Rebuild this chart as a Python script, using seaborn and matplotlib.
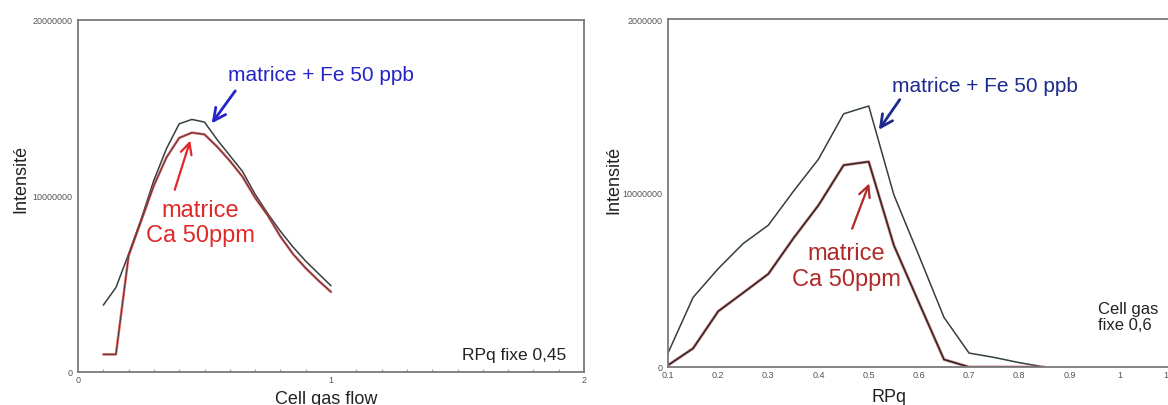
import pandas as pd
import matplotlib.pyplot as plt
import seaborn as sns

flow = [0.1, 0.15, 0.2, 0.25, 0.3, 0.35, 0.4, 0.45, 0.5, 0.55,
        0.6, 0.65, 0.7, 0.75, 0.8, 0.85, 0.9, 0.95, 1.0]
flow_fe = [3.8e6, 4.8e6, 6.7e6, 8.7e6, 10.9e6, 12.7e6, 14.1e6, 14.35e6, 14.2e6, 13.2e6,
           12.3e6, 11.4e6, 10.1e6, 9.0e6, 8.0e6, 7.1e6, 6.3e6, 5.6e6, 4.9e6]
flow_ca = [1.0e6, 1.0e6, 6.6e6, 8.6e6, 10.6e6, 12.2e6, 13.3e6, 13.6e6, 13.5e6, 12.8e6,
           12.0e6, 11.1e6, 9.9e6, 8.9e6, 7.7e6, 6.7e6, 5.9e6, 5.2e6, 4.55e6]

rpq = [0.1, 0.15, 0.2, 0.25, 0.3, 0.35, 0.4, 0.45, 0.5, 0.55,
       0.6, 0.65, 0.7, 0.75, 0.8, 0.85]
rpq_fe = [0.8e6, 4.0e6, 5.65e6, 7.1e6, 8.15e6, 10.1e6, 11.95e6, 14.55e6, 15.0e6, 9.9e6,
          6.4e6, 2.85e6, 0.8e6, 0.55e6, 0.25e6, 0.0]
rpq_ca = [0.1e6, 1.07e6, 3.2e6, 4.27e6, 5.35e6, 7.4e6, 9.3e6, 11.6e6, 11.8e6, 7.0e6,
          3.7e6, 0.43e6, 0.0, 0.0, 0.0, 0.0]

left_yticks = [0, 1e7, 2e7]
left_ylabels = ["0", "10000000", "20000000"]
right_ylabels = ["0", "10000000", "2000000"]
left_xticks = [0, 1, 2]
right_xticks = [0.1, 0.2, 0.3, 0.4, 0.5, 0.6, 0.7, 0.8, 0.9, 1.0, 1.1]
right_xlabels = ["0.1", "0.2", "0.3", "0.4", "0.5", "0.6", "0.7", "0.8", "0.9", "1", "1.1"]

df_flow = pd.DataFrame({"flow": flow, "fe": flow_fe, "ca": flow_ca})
df_rpq = pd.DataFrame({"rpq": rpq, "fe": rpq_fe, "ca": rpq_ca})

sns.set_theme(style="white")
plt.rcParams["font.family"] = ["Liberation Sans", "DejaVu Sans"]

fig = plt.figure(figsize=(11.68, 4.06), dpi=100)
W, H = 1168, 406
ax1 = fig.add_axes([78 / W, 1 - 373 / H, 506 / W, 352 / H])
ax2 = fig.add_axes([668 / W, 1 - 368 / H, 552 / W, 348 / H])

gris = "#7a7a7a"
trait = "#33403e"

# --- graphe 1 : Cell gas flow ---
sns.lineplot(data=df_flow, x="flow", y="fe", ax=ax1, color=trait, lw=1.1)
sns.lineplot(data=df_flow, x="flow", y="ca", ax=ax1, color="#e03a3a", lw=1.8, alpha=0.8)
sns.lineplot(data=df_flow, x="flow", y="ca", ax=ax1, color="#4a3a3a", lw=0.7)
ax1.set_xlim(0, 2)
ax1.set_ylim(0, 2e7)
ax1.set_xticks(left_xticks)
ax1.set_xticklabels([str(t) for t in left_xticks])
ax1.set_xticks([i / 10 for i in range(21)], minor=True)
ax1.set_yticks(left_yticks)
ax1.set_yticklabels(left_ylabels)

ax1.text(0.593, 16.9e6, "matrice + Fe 50 ppb", color="#2424c8", fontsize=15,
         ha="left", va="center")
ax1.annotate("", xy=(0.522, 14.0e6), xytext=(0.628, 16.1e6),
             arrowprops=dict(arrowstyle="->", color="#2424c8", lw=2, mutation_scale=22))
ax1.text(0.482, 8.5e6, "matrice\nCa 50ppm", color="#e02828", fontsize=17,
         ha="center", va="center", linespacing=1.2)
ax1.annotate("", xy=(0.447, 13.3e6), xytext=(0.379, 10.2e6),
             arrowprops=dict(arrowstyle="->", color="#e02828", lw=1.6, mutation_scale=20))
ax1.text(1.93, 1.0e6, "RPq fixe 0,45", fontsize=12.5, ha="right", va="center", color="#222222")

ax1.set_xlabel("Cell gas flow", fontsize=13, color="#222222")
ax1.xaxis.set_label_coords(0.49, -0.05)
ax1.set_ylabel("Intensité", fontsize=13, color="#222222")
ax1.yaxis.set_label_coords(-0.097, 0.55)

# --- graphe 2 : RPq ---
sns.lineplot(data=df_rpq, x="rpq", y="fe", ax=ax2, color=trait, lw=1.1)
sns.lineplot(data=df_rpq, x="rpq", y="ca", ax=ax2, color="#d85050", lw=2.2, alpha=0.6)
sns.lineplot(data=df_rpq, x="rpq", y="ca", ax=ax2, color="#2e2a2a", lw=1.2)
ax2.set_xlim(0.1, 1.2)
ax2.set_ylim(0, 2e7)
ax2.set_xticks(right_xticks)
ax2.set_xticklabels(right_xlabels)
ax2.set_yticks(left_yticks)
ax2.set_yticklabels(right_ylabels)

ax2.text(0.547, 16.2e6, "matrice + Fe 50 ppb", color="#1c2a8c", fontsize=15,
         ha="left", va="center")
ax2.annotate("", xy=(0.517, 13.5e6), xytext=(0.565, 15.5e6),
             arrowprops=dict(arrowstyle="->", color="#1c2a8c", lw=2, mutation_scale=22))
ax2.text(0.455, 5.8e6, "matrice\nCa 50ppm", color="#b02a2a", fontsize=17,
         ha="center", va="center", linespacing=1.2)
ax2.annotate("", xy=(0.503, 10.7e6), xytext=(0.465, 7.8e6),
             arrowprops=dict(arrowstyle="->", color="#b02a2a", lw=1.6, mutation_scale=20))
ax2.text(0.957, 2.9e6, "Cell gas\nfixe 0,6", fontsize=12, ha="left", va="center",
         color="#222222", linespacing=1.15)

ax2.set_xlabel("RPq", fontsize=13, color="#222222")
ax2.xaxis.set_label_coords(0.40, -0.06)
ax2.set_ylabel("Intensité", fontsize=13, color="#222222")
ax2.yaxis.set_label_coords(-0.082, 0.54)

for ax in (ax1, ax2):
    for s in ax.spines.values():
        s.set_color(gris)
        s.set_linewidth(1.3)
    ax.tick_params(axis="both", which="major", labelsize=6.5, labelcolor="#555555",
                   color=gris, direction="in", length=8, width=1, pad=2)
    ax.tick_params(axis="y", which="major", length=4, pad=4)
    ax.tick_params(axis="x", which="minor", direction="in", length=2.5, color="#aaaaaa",
                   bottom=True)

fig.savefig("out.png", dpi=100)
